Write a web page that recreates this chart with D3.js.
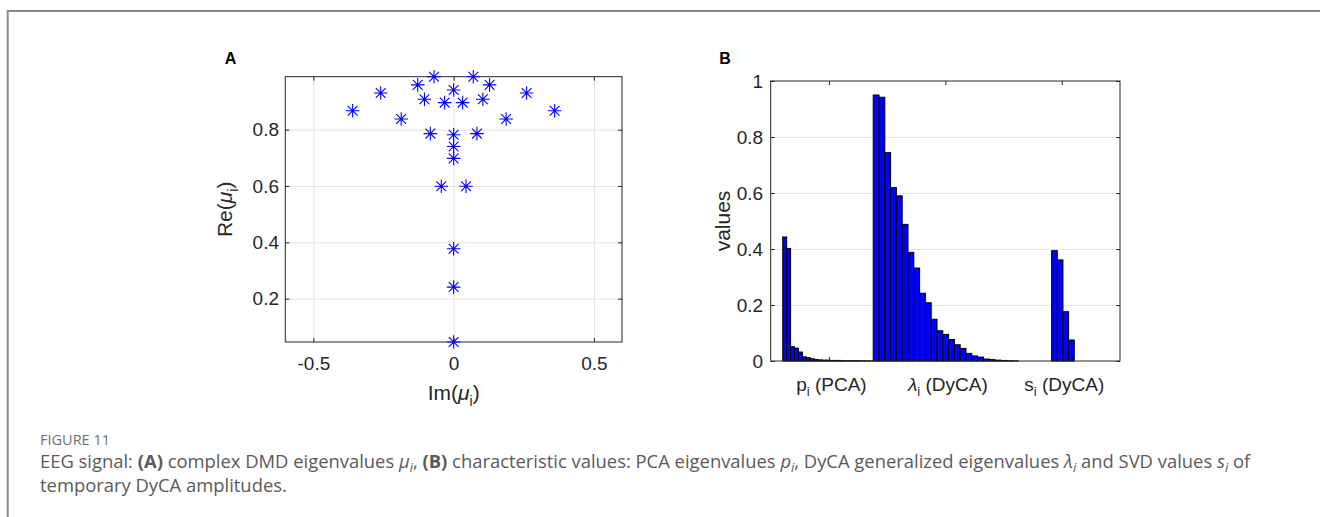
<!DOCTYPE html>
<html><head><meta charset="utf-8">
<script src="https://cdn.jsdelivr.net/npm/d3@7"></script>
<style>body{margin:0;background:#fff}svg{display:block}</style>
</head><body>
<svg id="fig" width="1320" height="517"></svg>
<script>
// ---------- Panel A data: complex DMD eigenvalues ----------
const dmdIm = [-0.360, 0.360, -0.260, 0.260, -0.187, 0.187, -0.128, 0.128, -0.104, 0.104,
               -0.070, 0.070, -0.083, 0.083, -0.032, 0.032, 0, 0, 0, 0, -0.044, 0.044, 0, 0, 0];
const dmdRe = [0.867, 0.867, 0.930, 0.930, 0.838, 0.838, 0.959, 0.959, 0.908, 0.908,
               0.988, 0.988, 0.786, 0.786, 0.896, 0.896, 0.941, 0.782, 0.740, 0.698, 0.599, 0.599, 0.377, 0.241, 0.046];
const aXLimits = [-0.6, 0.6];
const aXTicks = [-0.5, 0, 0.5];
const aXTickLabels = ["-0.5", "0", "0.5"];
const aYTicks = [0.2, 0.4, 0.6, 0.8];
const aYTickLabels = ["0.2", "0.4", "0.6", "0.8"];

// ---------- Panel B data: characteristic values ----------
const pcaP = [0.443, 0.402, 0.051, 0.046, 0.032, 0.015, 0.012, 0.008, 0.005, 0.004, 0.003, 0.003,
              0.002, 0.002, 0.002, 0.001, 0.001, 0.001, 0.001, 0.001, 0.0005, 0.0003, 0.0002];
const dycaLambda = [0.950, 0.942, 0.744, 0.619, 0.590, 0.488, 0.388, 0.332, 0.242, 0.208, 0.149, 0.108,
                    0.095, 0.077, 0.058, 0.045, 0.027, 0.018, 0.014, 0.007, 0.005, 0.003, 0.002, 0.001, 0.0005];
const dycaS = [0.394, 0.361, 0.176, 0.075];
const bYTicks = [0, 0.2, 0.4, 0.6, 0.8, 1];
const bYTickLabels = ["0", "0.2", "0.4", "0.6", "0.8", "1"];
const bXTicks = [1, 2, 3];
const bXTickLabels = [["p", "i", " (PCA)"], ["\u03BB", "i", " (DyCA)"], ["s", "i", " (DyCA)"]];
const bXLimits = [0.5, 3.5];
const bYLimits = [0, 1];

// ---------- layout ----------
const FONT = "'Liberation Sans', Arial, Helvetica, sans-serif";
const AX = "#262626", GRID = "#e4e4e4", BLUE = "#0000ff";
const svg = d3.select("#fig");
svg.append("rect").attr("width", 1320).attr("height", 517).attr("fill", "#fff");

// outer frame
svg.append("path").attr("d", "M7.7,517 V11 H1320").attr("fill", "none")
  .attr("stroke", "#8a8a8a").attr("stroke-width", 2);

function styleAxis(g) {
  g.select(".domain").remove();
  g.selectAll(".tick line").attr("stroke", AX).attr("stroke-width", 1);
  g.selectAll(".tick text").attr("fill", AX).attr("font-family", FONT).attr("font-size", 19);
}
function gridStyle(g) {
  g.select(".domain").remove();
  g.selectAll(".tick line").attr("stroke", GRID).attr("stroke-width", 1);
}

// ================= Panel A =================
const A = {l: 285.3, r: 622, t: 76.7, b: 342};
const xA = d3.scaleLinear().domain(aXLimits).range([A.l, A.r]);
const yA = d3.scaleLinear().domain(d3.extent(dmdRe)).range([A.b, A.t]);
const gA = svg.append("g");

gA.append("g").attr("transform", `translate(0,${A.b})`)
  .call(d3.axisBottom(xA).tickValues(aXTicks).tickSize(-(A.b - A.t)).tickFormat("")).call(gridStyle);
gA.append("g").attr("transform", `translate(${A.l},0)`)
  .call(d3.axisLeft(yA).tickValues(aYTicks).tickSize(-(A.r - A.l)).tickFormat("")).call(gridStyle);

gA.append("g").attr("transform", `translate(0,${A.b})`)
  .call(d3.axisBottom(xA).tickValues(aXTicks).tickSizeInner(-4).tickSizeOuter(0).tickPadding(14.5)
    .tickFormat((d, i) => aXTickLabels[i])).call(styleAxis);
gA.append("g").attr("transform", `translate(0,${A.t})`)
  .call(d3.axisTop(xA).tickValues(aXTicks).tickSizeInner(-4).tickSizeOuter(0).tickFormat("")).call(styleAxis);
gA.append("g").attr("transform", `translate(${A.l},0)`)
  .call(d3.axisLeft(yA).tickValues(aYTicks).tickSizeInner(-4).tickSizeOuter(0).tickPadding(6.3)
    .tickFormat((d, i) => aYTickLabels[i])).call(styleAxis);
gA.append("g").attr("transform", `translate(${A.r},0)`)
  .call(d3.axisRight(yA).tickValues(aYTicks).tickSizeInner(-4).tickSizeOuter(0).tickFormat("")).call(styleAxis);

gA.append("rect").attr("x", A.l).attr("y", A.t).attr("width", A.r - A.l).attr("height", A.b - A.t)
  .attr("fill", "none").attr("stroke", AX).attr("stroke-width", 1);

// asterisk markers
const R = 6.8, D = 4.9;
const star = `M${-R},0H${R}M0,${-R}V${R}M${-D},${-D}L${D},${D}M${-D},${D}L${D},${-D}`;
gA.append("g").selectAll("path").data(dmdRe.map((re, i) => [dmdIm[i], re])).join("path")
  .attr("d", star).attr("transform", d => `translate(${xA(d[0])},${yA(d[1])})`)
  .attr("fill", "none").attr("stroke", BLUE).attr("stroke-width", 1.1);

// axis labels A
function subLabel(sel, parts) {
  sel.append("tspan").text(parts[0]);
  sel.append("tspan").attr("font-style", "italic").text(parts[1]);
  sel.append("tspan").attr("font-size", 14).attr("dy", 6).text(parts[2]);
  sel.append("tspan").attr("dy", -6).text(parts[3]);
}
const reLab = svg.append("text").attr("transform", `translate(232,${(A.t + A.b) / 2}) rotate(-90)`)
  .attr("text-anchor", "middle").attr("font-family", FONT).attr("font-size", 21).attr("fill", AX);
subLabel(reLab, ["Re(", "\u03BC", "i", ")"]);
const imLab = svg.append("text").attr("transform", `translate(${(A.l + A.r) / 2},400)`)
  .attr("text-anchor", "middle").attr("font-family", FONT).attr("font-size", 21).attr("fill", AX);
subLabel(imLab, ["Im(", "\u03BC", "i", ")"]);

svg.append("text").attr("x", 230.5).attr("y", 64).attr("text-anchor", "middle")
  .attr("font-family", FONT).attr("font-weight", "bold").attr("font-size", 16).attr("fill", "#000").text("A");

// ================= Panel B =================
const B = {l: 770.7, r: 1120, t: 81, b: 361};
const xB = d3.scaleLinear().domain(bXLimits).range([B.l, B.r]);
const yB = d3.scaleLinear().domain(bYLimits).range([B.b, B.t]);
const gB = svg.append("g");

gB.append("g").attr("transform", `translate(${B.l},0)`)
  .call(d3.axisLeft(yB).tickValues(bYTicks.slice(1, -1)).tickSize(-(B.r - B.l)).tickFormat("")).call(gridStyle);

// bar groups (layout: centre and bar width in x-units)
const groups = [
  {vals: pcaP, centre: 0.992, w: 0.0338},
  {vals: dycaLambda, centre: 2.003, w: 0.0498},
  {vals: dycaS, centre: 3.010, w: 0.0486}
];
groups.forEach(g => {
  const start = g.centre - g.vals.length * g.w / 2;
  gB.append("g").selectAll("rect").data(g.vals).join("rect")
    .attr("x", (d, i) => xB(start + i * g.w))
    .attr("width", xB(g.w) - xB(0))
    .attr("y", d => yB(d))
    .attr("height", d => yB(0) - yB(d))
    .attr("fill", BLUE).attr("stroke", "#000").attr("stroke-width", 1);
});

gB.append("g").attr("transform", `translate(${B.l},0)`)
  .call(d3.axisLeft(yB).tickValues(bYTicks).tickSizeInner(-4).tickSizeOuter(0).tickPadding(7.5)
    .tickFormat((d, i) => bYTickLabels[i])).call(styleAxis);
gB.append("g").attr("transform", `translate(${B.r},0)`)
  .call(d3.axisRight(yB).tickValues(bYTicks).tickSizeInner(-4).tickSizeOuter(0).tickFormat("")).call(styleAxis);
gB.append("g").attr("transform", `translate(0,${B.t})`)
  .call(d3.axisTop(xB).tickValues(bXTicks).tickSizeInner(-4).tickSizeOuter(0).tickFormat("")).call(styleAxis);
const bxAxis = gB.append("g").attr("transform", `translate(0,${B.b})`)
  .call(d3.axisBottom(xB).tickValues(bXTicks).tickSizeInner(-4).tickSizeOuter(0).tickPadding(16).tickFormat(""))
  .call(styleAxis);
bxAxis.selectAll(".tick").each(function(d, i) {
  const t = d3.select(this).append("text").attr("y", 29.7).attr("x", 2).attr("text-anchor", "middle")
    .attr("font-family", FONT).attr("font-size", 19).attr("fill", AX);
  const lab = bXTickLabels[i];
  t.append("tspan").attr("font-style", lab[0] === "\u03BB" ? "italic" : null).text(lab[0]);
  t.append("tspan").attr("font-size", 13).attr("dy", 5).text(lab[1]);
  t.append("tspan").attr("dy", -5).text(lab[2]);
});

gB.append("rect").attr("x", B.l).attr("y", B.t).attr("width", B.r - B.l).attr("height", B.b - B.t)
  .attr("fill", "none").attr("stroke", AX).attr("stroke-width", 1);

svg.append("text").attr("transform", `translate(730,${(B.t + B.b) / 2}) rotate(-90)`)
  .attr("text-anchor", "middle").attr("font-family", FONT).attr("font-size", 21).attr("fill", AX).text("values");

svg.append("text").attr("x", 725).attr("y", 64).attr("text-anchor", "middle")
  .attr("font-family", FONT).attr("font-weight", "bold").attr("font-size", 16).attr("fill", "#000").text("B");

// ================= Caption =================
const CF = "'Open Sans', 'Noto Sans', sans-serif";
const CS = 18.4;
svg.append("text").attr("x", 40).attr("y", 445).attr("font-family", CF).attr("font-size", 14.5)
  .attr("fill", "#707070").text("FIGURE 11");
const cap1 = svg.append("text").attr("x", 40).attr("y", 468).attr("font-family", CF).attr("font-size", CS).attr("fill", "#5a5a5a");
const segs = [
  ["EEG signal: "], ["(A)", "b"], [" complex DMD eigenvalues "], ["\u03BC", "i"], ["i", "s"], [", "],
  ["(B)", "b"], [" characteristic values: PCA eigenvalues "], ["p", "i"], ["i", "s"],
  [", DyCA generalized eigenvalues "], ["\u03BB", "i"], ["i", "s"], [" and SVD values "], ["s", "i"], ["i", "s"], [" of"]
];
let afterSub = false;
segs.forEach(([txt, st]) => {
  const ts = cap1.append("tspan").text(txt);
  if (st === "b") ts.attr("font-weight", "bold");
  if (st === "i") ts.attr("font-style", "italic");
  if (st === "s") { ts.attr("font-style", "italic").attr("font-size", CS * 0.7).attr("dy", 3.5); }
  else if (afterSub) ts.attr("dy", -3.5);
  afterSub = st === "s";
});
svg.append("text").attr("x", 40).attr("y", 491.7).attr("font-family", CF).attr("font-size", CS)
  .attr("fill", "#5a5a5a").text("temporary DyCA amplitudes.");
</script>
</body></html>
